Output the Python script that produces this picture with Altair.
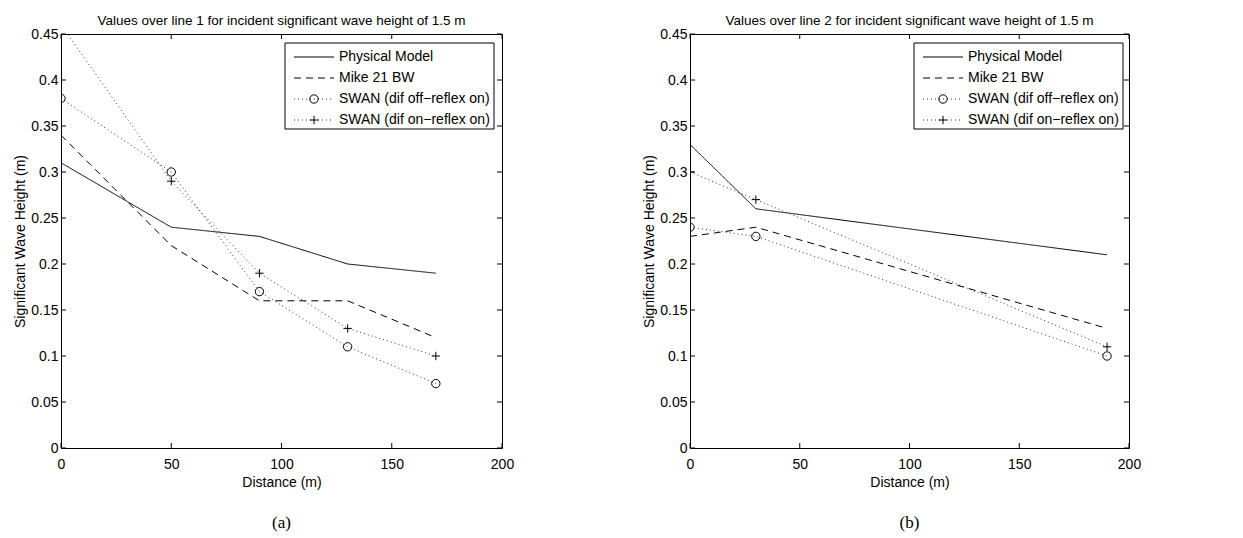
import altair as alt
import pandas as pd

# ---------------- data ----------------
series = ["Physical Model", "Mike 21 BW",
          "SWAN (dif off\u2212reflex on)", "SWAN (dif on\u2212reflex on)"]

dist_1 = [0, 50, 90, 130, 170]
phys_1 = [0.31, 0.24, 0.23, 0.20, 0.19]
mike_1 = [0.34, 0.22, 0.16, 0.16, 0.12]
swan_off_1 = [0.38, 0.30, 0.17, 0.11, 0.07]
swan_on_1 = [0.46, 0.29, 0.19, 0.13, 0.10]

dist_2 = [0, 30, 190]
phys_2 = [0.33, 0.26, 0.21]
mike_2 = [0.23, 0.24, 0.13]
swan_off_2 = [0.24, 0.23, 0.10]
swan_on_2 = [0.30, 0.27, 0.11]

x_ticks = [0, 50, 100, 150, 200]
y_ticks = [0, 0.05, 0.1, 0.15, 0.2, 0.25, 0.3, 0.35, 0.4, 0.45]
titles = ["Values over line 1 for incident significant wave height of 1.5 m",
          "Values over line 2 for incident significant wave height of 1.5 m"]
captions = ["(a)", "(b)"]

# ---------------- styles ----------------
dashes = [[1, 0], [7, 5], [1, 3], [1, 3]]
colors = ["black", "black", "#333333", "#333333"]
plus_path = "M-1,0L1,0M0,-1L0,1"
shapes = ["circle", plus_path]
FONT = "Liberation Sans"
W1, W2, H = 441, 439, 414


def long_df(dist, cols):
    rows = []
    for name, vals in zip(series, cols):
        for d, v in zip(dist, vals):
            rows.append({"dist": d, "val": v, "series": name})
    return pd.DataFrame(rows)


def panel(df, W, title, caption):
    xs = alt.Scale(domain=[0, 200], nice=False)
    ys = alt.Scale(domain=[0, 0.45], nice=False)
    xax = alt.Axis(values=x_ticks, ticks=False, grid=False, domain=False,
                   labelPadding=9, titlePadding=4, labelFlush=False,
                   labelFont=FONT, labelFontSize=14, labelColor="black",
                   titleFont=FONT, titleFontSize=14, titleFontWeight="normal", titleColor="black")
    yax = alt.Axis(values=y_ticks, ticks=False, grid=False, domain=False,
                   labelPadding=3, titlePadding=3, format="~g", labelFlush=False,
                   labelFont=FONT, labelFontSize=14, labelColor="black",
                   titleFont=FONT, titleFontSize=14, titleFontWeight="normal", titleColor="black")

    lines = alt.Chart(df).mark_line(strokeWidth=1, clip=True).encode(
        x=alt.X("dist:Q", scale=xs, axis=xax, title="Distance (m)"),
        y=alt.Y("val:Q", scale=ys, axis=yax, title="Significant Wave Height (m)"),
        detail="series:N",
        strokeDash=alt.StrokeDash("series:N", scale=alt.Scale(domain=series, range=dashes), legend=None),
        color=alt.Color("series:N", scale=alt.Scale(domain=series, range=colors), legend=None),
        order="dist:Q",
    )
    pts = alt.Chart(df).transform_filter(
        alt.FieldOneOfPredicate(field="series", oneOf=series[2:])
    ).mark_point(filled=False, size=70, strokeWidth=1, color="black", opacity=1, clip=True).encode(
        x=alt.X("dist:Q", scale=xs),
        y=alt.Y("val:Q", scale=ys),
        shape=alt.Shape("series:N", scale=alt.Scale(domain=series[2:], range=shapes), legend=None),
    )

    xt = pd.DataFrame({"v": x_ticks})
    yt = pd.DataFrame({"v": y_ticks})
    tick_b = alt.Chart(xt).mark_rule(color="black", strokeWidth=1).encode(
        x=alt.X("v:Q", scale=xs), y=alt.value(H), y2=alt.value(H - 5))
    tick_t = alt.Chart(xt).mark_rule(color="black", strokeWidth=1).encode(
        x=alt.X("v:Q", scale=xs), y=alt.value(0), y2=alt.value(5))
    tick_l = alt.Chart(yt).mark_rule(color="black", strokeWidth=1).encode(
        y=alt.Y("v:Q", scale=ys), x=alt.value(0), x2=alt.value(5))
    tick_r = alt.Chart(yt).mark_rule(color="black", strokeWidth=1).encode(
        y=alt.Y("v:Q", scale=ys), x=alt.value(W), x2=alt.value(W - 5))

    # legend box
    lx0, lx1, ly0, ly1 = 224, 433, 9, 95
    row_y = [23, 44, 65, 86]
    one = pd.DataFrame({"k": [0]})
    box = alt.Chart(one).mark_rect(fill="white", stroke="black", strokeWidth=1).encode(
        x=alt.value(lx0), x2=alt.value(lx1), y=alt.value(ly0), y2=alt.value(ly1))
    leg = [box]
    for i, name in enumerate(series):
        leg.append(alt.Chart(one).mark_rule(color=colors[i], strokeWidth=1, strokeDash=dashes[i]).encode(
            x=alt.value(233), x2=alt.value(273), y=alt.value(row_y[i])))
        if i >= 2:
            leg.append(alt.Chart(one).mark_point(filled=False, size=70, strokeWidth=1, color="black",
                                                 opacity=1, shape=shapes[i - 2]).encode(
                x=alt.value(253), y=alt.value(row_y[i])))
        leg.append(alt.Chart(pd.DataFrame({"t": [name]})).mark_text(
            align="left", baseline="middle", font=FONT, fontSize=14, color="black").encode(
            x=alt.value(278), y=alt.value(row_y[i]), text="t:N"))

    cap = alt.Chart(pd.DataFrame({"t": [caption]})).mark_text(
        align="center", baseline="middle", font="Liberation Serif", fontSize=17, color="black").encode(
        x=alt.value(W / 2), y=alt.value(H + 75), text="t:N")

    return alt.layer(lines, pts, tick_b, tick_t, tick_l, tick_r, *leg, cap).properties(
        width=W, height=H,
        title=alt.TitleParams(title, font=FONT, fontSize=13.5, fontWeight="normal", color="black", offset=0),
    )


df1 = long_df(dist_1, [phys_1, mike_1, swan_off_1, swan_on_1])
df2 = long_df(dist_2, [phys_2, mike_2, swan_off_2, swan_on_2])

chart = alt.hconcat(
    panel(df1, W1, titles[0], captions[0]),
    panel(df2, W2, titles[1], captions[1]),
    spacing=127,
).configure(background="white").configure_view(stroke="black", strokeWidth=1)

chart.save("out.html", embed_options={"renderer": "svg", "actions": False})
